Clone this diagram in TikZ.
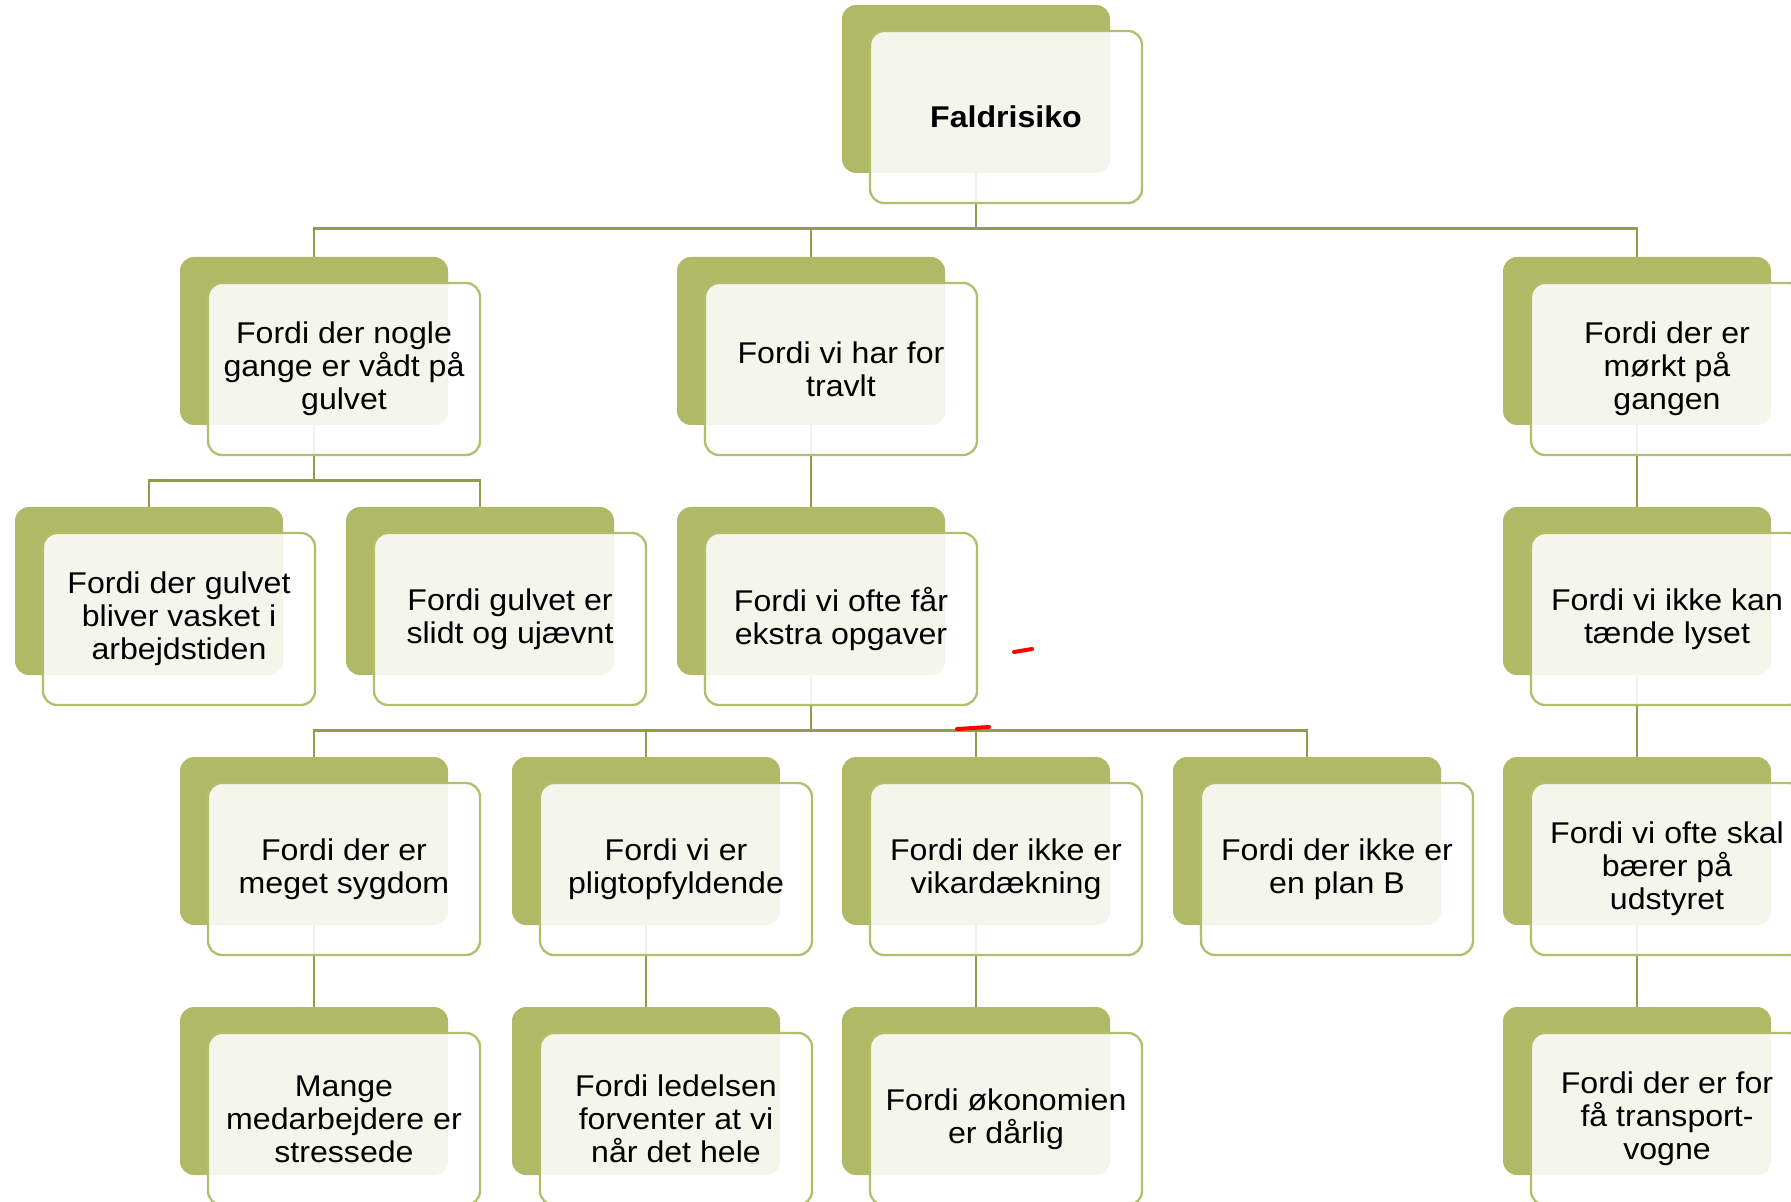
\documentclass[tikz,border=0pt]{standalone}
\usepackage{fontspec}
\setmainfont[FakeStretch=1.07]{Liberation Sans}
\usetikzlibrary{backgrounds}

\definecolor{olivefill}{HTML}{B0B965}
\definecolor{oliveline}{HTML}{B3BD6C}
\definecolor{olivelink}{HTML}{939B4F}

\tikzset{
    backbox/.style={fill=olivefill, rounded corners=7pt, minimum width=134pt, minimum height=84pt, inner sep=0pt},
    frontbox/.style={draw=oliveline, line width=1.15pt, fill=white, fill opacity=0.87, text opacity=1,
        rounded corners=7pt, minimum width=136pt, minimum height=86pt, inner sep=0pt, align=center,
        font=\fontsize{15}{16.5}\selectfont},
    link/.style={draw=olivelink, line width=1.3pt},
    redmark/.style={draw=red, line width=2pt, line cap=round}
}

% Back box (named #1) at #2, front box with the text on top of it
\newcommand{\CauseBox}[3]{
    \node[backbox] (#1) at (#2) {};
    \node[frontbox] (#1-txt) at ([shift={(15pt,-14pt)}]#1.center) {#3};
}

\begin{document}
\begin{tikzpicture}[x=0.5pt, y=-0.5pt]
    \useasboundingbox (0,0) rectangle (1791,1202);
    \clip (0,0) rectangle (1791,1202);

    % Top
    \CauseBox{risk}{976,89}{\fontsize{15}{17}\selectfont\bfseries Faldrisiko}

    % Level 1
    \CauseBox{wet}{314,341}{Fordi der nogle\\gange er vådt på\\gulvet}
    \CauseBox{busy}{811,341}{Fordi vi har for\\travlt}
    \CauseBox{dark}{1637,341}{Fordi der er\\mørkt på\\gangen}

    % Level 2
    \CauseBox{washed}{149,591}{Fordi der gulvet\\bliver vasket i\\arbejdstiden}
    \CauseBox{worn}{480,591}{Fordi gulvet er\\slidt og ujævnt}
    \CauseBox{tasks}{811,591}{Fordi vi ofte får\\ekstra opgaver}
    \CauseBox{light}{1637,591}{Fordi vi ikke kan\\tænde lyset}

    % Level 3
    \CauseBox{sick}{314,841}{Fordi der er\\meget sygdom}
    \CauseBox{duty}{646,841}{Fordi vi er\\pligtopfyldende}
    \CauseBox{cover}{976,841}{Fordi der ikke er\\vikardækning}
    \CauseBox{planb}{1307,841}{Fordi der ikke er\\en plan B}
    \CauseBox{carry}{1637,841}{Fordi vi ofte skal\\bærer på\\udstyret}

    % Level 4
    \CauseBox{stress}{314,1091}{Mange\\medarbejdere er\\stressede}
    \CauseBox{mgmt}{646,1091}{Fordi ledelsen\\forventer at vi\\når det hele}
    \CauseBox{money}{976,1091}{Fordi økonomien\\er dårlig}
    \CauseBox{trolley}{1637,1091}{Fordi der er for\\få transport-\\vogne}

    % Connectors behind the boxes
    \begin{scope}[on background layer]
        \foreach \p/\c in {risk/wet, risk/busy, risk/dark,
                           wet/washed, wet/worn, busy/tasks, dark/light,
                           tasks/sick, tasks/duty, tasks/cover, tasks/planb, light/carry,
                           sick/stress, duty/mgmt, cover/money, carry/trolley}
            \draw[link] (\p.south) -- ++(0,55) -| (\c.north);
    \end{scope}

    % Red pen marks
    \draw[redmark] (1014,652) -- (1032,649);
    \draw[redmark] (957,729) -- (989,727);
\end{tikzpicture}
\end{document}
